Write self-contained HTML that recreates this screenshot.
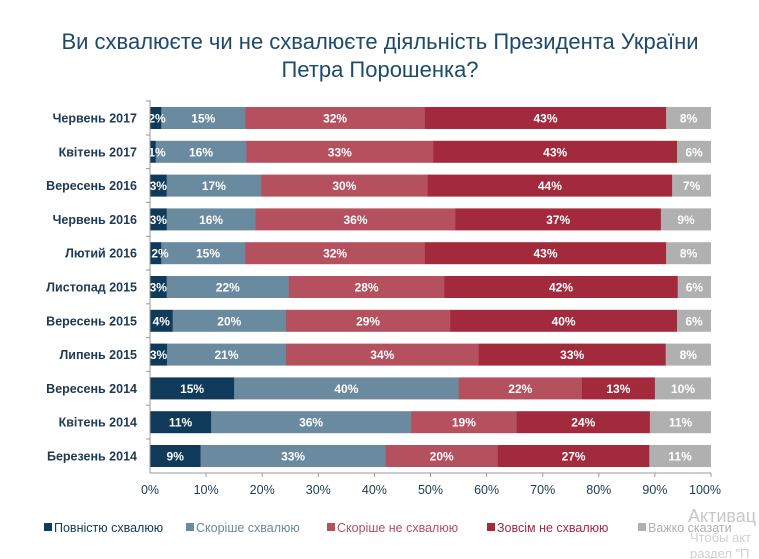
<!DOCTYPE html>
<html><head><meta charset="utf-8"><style>
body{margin:0;background:#fff;}
svg{display:block;font-family:"Liberation Sans",sans-serif;}
.l{font-size:12.5px;font-weight:bold;fill:#1d3a52;text-anchor:end}
.v{font-size:12px;font-weight:bold;fill:#fff;text-anchor:middle}
.t{font-size:12.5px;fill:#1d3a52;text-anchor:middle}
</style></head><body>
<svg width="759" height="559" viewBox="0 0 759 559" xmlns="http://www.w3.org/2000/svg">
<text x="380" y="49" text-anchor="middle" font-size="22" fill="#1d4a6b">Ви схвалюєте чи не схвалюєте діяльність Президента України</text>
<text x="380" y="77" text-anchor="middle" font-size="22" fill="#1d4a6b">Петра Порошенка?</text>

<g transform="translate(0,107)"><text class="l" x="137" y="15.5">Червень 2017</text>
<rect x="150" y="0" width="11.5" height="22" fill="#0f3a5a"/><rect x="161.22" y="0" width="84.4" height="22" fill="#6a8aa0"/><rect x="245.37" y="0" width="179.8" height="22" fill="#b5505e"/><rect x="424.89" y="0" width="241.5" height="22" fill="#a32a3d"/><rect x="666.12" y="0" width="44.88" height="22" fill="#b0b0b0"/>
<text class="v" x="157" y="15.5">2%</text><text class="v" x="203.3" y="15.5">15%</text><text class="v" x="335.1" y="15.5">32%</text><text class="v" x="545.5" y="15.5">43%</text><text class="v" x="688.6" y="15.5">8%</text></g>

<g transform="translate(0,140.8)"><text class="l" x="137" y="15.5">Квітень 2017</text>
<rect x="150" y="0" width="6" height="22" fill="#0f3a5a"/><rect x="155.67" y="0" width="91" height="22" fill="#6a8aa0"/><rect x="246.34" y="0" width="187.3" height="22" fill="#b5505e"/><rect x="433.34" y="0" width="244" height="22" fill="#a32a3d"/><rect x="677" y="0" width="34" height="22" fill="#b0b0b0"/>
<text class="v" x="157" y="15.5">1%</text><text class="v" x="201" y="15.5">16%</text><text class="v" x="339.8" y="15.5">33%</text><text class="v" x="555.2" y="15.5">43%</text><text class="v" x="694" y="15.5">6%</text></g>

<g transform="translate(0,174.6)"><text class="l" x="137" y="15.5">Вересень 2016</text>
<rect x="150" y="0" width="17" height="22" fill="#0f3a5a"/><rect x="166.66" y="0" width="94.7" height="22" fill="#6a8aa0"/><rect x="261.09" y="0" width="166.9" height="22" fill="#b5505e"/><rect x="427.7" y="0" width="244.7" height="22" fill="#a32a3d"/><rect x="672.1" y="0" width="38.9" height="22" fill="#b0b0b0"/>
<text class="v" x="158.3" y="15.5">3%</text><text class="v" x="213.9" y="15.5">17%</text><text class="v" x="344.4" y="15.5">30%</text><text class="v" x="549.9" y="15.5">44%</text><text class="v" x="691.6" y="15.5">7%</text></g>

<g transform="translate(0,208.4)"><text class="l" x="137" y="15.5">Червень 2016</text>
<rect x="150" y="0" width="17" height="22" fill="#0f3a5a"/><rect x="166.66" y="0" width="89.2" height="22" fill="#6a8aa0"/><rect x="255.53" y="0" width="200.2" height="22" fill="#b5505e"/><rect x="455.4" y="0" width="205.8" height="22" fill="#a32a3d"/><rect x="660.9" y="0" width="50.1" height="22" fill="#b0b0b0"/>
<text class="v" x="158.3" y="15.5">3%</text><text class="v" x="211.1" y="15.5">16%</text><text class="v" x="355.5" y="15.5">36%</text><text class="v" x="558.2" y="15.5">37%</text><text class="v" x="686" y="15.5">9%</text></g>

<g transform="translate(0,242.2)"><text class="l" x="137" y="15.5">Лютий 2016</text>
<rect x="150" y="0" width="11.5" height="22" fill="#0f3a5a"/><rect x="161.22" y="0" width="84.4" height="22" fill="#6a8aa0"/><rect x="245.37" y="0" width="179.8" height="22" fill="#b5505e"/><rect x="424.89" y="0" width="241.5" height="22" fill="#a32a3d"/><rect x="666.12" y="0" width="44.88" height="22" fill="#b0b0b0"/>
<text class="v" x="160" y="15.5">2%</text><text class="v" x="208" y="15.5">15%</text><text class="v" x="335.1" y="15.5">32%</text><text class="v" x="545.5" y="15.5">43%</text><text class="v" x="688.6" y="15.5">8%</text></g>

<g transform="translate(0,276)"><text class="l" x="137" y="15.5">Листопад 2015</text>
<rect x="150" y="0" width="17" height="22" fill="#0f3a5a"/><rect x="166.66" y="0" width="122.5" height="22" fill="#6a8aa0"/><rect x="288.86" y="0" width="155.8" height="22" fill="#b5505e"/><rect x="444.4" y="0" width="233.6" height="22" fill="#a32a3d"/><rect x="677.7" y="0" width="33.3" height="22" fill="#b0b0b0"/>
<text class="v" x="158.3" y="15.5">3%</text><text class="v" x="227.8" y="15.5">22%</text><text class="v" x="366.6" y="15.5">28%</text><text class="v" x="561" y="15.5">42%</text><text class="v" x="694.4" y="15.5">6%</text></g>

<g transform="translate(0,309.8)"><text class="l" x="137" y="15.5">Вересень 2015</text>
<rect x="150" y="0" width="23" height="22" fill="#0f3a5a"/><rect x="172.67" y="0" width="113.6" height="22" fill="#6a8aa0"/><rect x="285.97" y="0" width="164.6" height="22" fill="#b5505e"/><rect x="450.3" y="0" width="227" height="22" fill="#a32a3d"/><rect x="677" y="0" width="34" height="22" fill="#b0b0b0"/>
<text class="v" x="161.3" y="15.5">4%</text><text class="v" x="229.3" y="15.5">20%</text><text class="v" x="368.1" y="15.5">29%</text><text class="v" x="563.6" y="15.5">40%</text><text class="v" x="694" y="15.5">6%</text></g>

<g transform="translate(0,343.6)"><text class="l" x="137" y="15.5">Липень 2015</text>
<rect x="150" y="0" width="17.3" height="22" fill="#0f3a5a"/><rect x="167" y="0" width="119.3" height="22" fill="#6a8aa0"/><rect x="286" y="0" width="193" height="22" fill="#b5505e"/><rect x="478.7" y="0" width="187.3" height="22" fill="#a32a3d"/><rect x="665.7" y="0" width="45.3" height="22" fill="#b0b0b0"/>
<text class="v" x="158.5" y="15.5">3%</text><text class="v" x="226.5" y="15.5">21%</text><text class="v" x="382.3" y="15.5">34%</text><text class="v" x="572.2" y="15.5">33%</text><text class="v" x="688.3" y="15.5">8%</text></g>

<g transform="translate(0,377.4)"><text class="l" x="137" y="15.5">Вересень 2014</text>
<rect x="150" y="0" width="84.4" height="22" fill="#0f3a5a"/><rect x="234.15" y="0" width="224.7" height="22" fill="#6a8aa0"/><rect x="458.55" y="0" width="123.7" height="22" fill="#b5505e"/><rect x="581.97" y="0" width="73.2" height="22" fill="#a32a3d"/><rect x="654.9" y="0" width="56.1" height="22" fill="#b0b0b0"/>
<text class="v" x="192.1" y="15.5">15%</text><text class="v" x="346.4" y="15.5">40%</text><text class="v" x="520.3" y="15.5">22%</text><text class="v" x="618.4" y="15.5">13%</text><text class="v" x="683" y="15.5">10%</text></g>

<g transform="translate(0,411.2)"><text class="l" x="137" y="15.5">Квітень 2014</text>
<rect x="150" y="0" width="61.4" height="22" fill="#0f3a5a"/><rect x="211.1" y="0" width="200.3" height="22" fill="#6a8aa0"/><rect x="411.1" y="0" width="105.8" height="22" fill="#b5505e"/><rect x="516.6" y="0" width="133.6" height="22" fill="#a32a3d"/><rect x="649.9" y="0" width="61.1" height="22" fill="#b0b0b0"/>
<text class="v" x="180.5" y="15.5">11%</text><text class="v" x="311.1" y="15.5">36%</text><text class="v" x="463.9" y="15.5">19%</text><text class="v" x="583.3" y="15.5">24%</text><text class="v" x="680.5" y="15.5">11%</text></g>

<g transform="translate(0,445)"><text class="l" x="137" y="15.5">Березень 2014</text>
<rect x="150" y="0" width="50.8" height="22" fill="#0f3a5a"/><rect x="200.49" y="0" width="185.4" height="22" fill="#6a8aa0"/><rect x="385.62" y="0" width="112.5" height="22" fill="#b5505e"/><rect x="497.82" y="0" width="151.7" height="22" fill="#a32a3d"/><rect x="649.29" y="0" width="61.71" height="22" fill="#b0b0b0"/>
<text class="v" x="175.2" y="15.5">9%</text><text class="v" x="293.1" y="15.5">33%</text><text class="v" x="441.7" y="15.5">20%</text><text class="v" x="573.6" y="15.5">27%</text><text class="v" x="680.1" y="15.5">11%</text></g>

<g stroke="#999">
<line x1="150" y1="100" x2="150" y2="473"/>
<line x1="150" y1="473" x2="711" y2="473"/>
<line x1="146" y1="101" x2="150" y2="101"/><line x1="146" y1="135" x2="150" y2="135"/><line x1="146" y1="168.6" x2="150" y2="168.6"/><line x1="146" y1="202.4" x2="150" y2="202.4"/><line x1="146" y1="236.2" x2="150" y2="236.2"/><line x1="146" y1="270" x2="150" y2="270"/><line x1="146" y1="303.8" x2="150" y2="303.8"/><line x1="146" y1="337.6" x2="150" y2="337.6"/><line x1="146" y1="371.4" x2="150" y2="371.4"/><line x1="146" y1="405.2" x2="150" y2="405.2"/><line x1="146" y1="439" x2="150" y2="439"/>
<line x1="206.1" y1="473" x2="206.1" y2="477"/><line x1="262.2" y1="473" x2="262.2" y2="477"/><line x1="318.3" y1="473" x2="318.3" y2="477"/><line x1="374.4" y1="473" x2="374.4" y2="477"/><line x1="430.5" y1="473" x2="430.5" y2="477"/><line x1="486.6" y1="473" x2="486.6" y2="477"/><line x1="542.7" y1="473" x2="542.7" y2="477"/><line x1="598.8" y1="473" x2="598.8" y2="477"/><line x1="654.9" y1="473" x2="654.9" y2="477"/><line x1="711" y1="473" x2="711" y2="477"/>
</g>
<text class="t" x="150" y="494">0%</text><text class="t" x="206.1" y="494">10%</text><text class="t" x="262.2" y="494">20%</text><text class="t" x="318.3" y="494">30%</text><text class="t" x="374.4" y="494">40%</text><text class="t" x="430.5" y="494">50%</text><text class="t" x="486.6" y="494">60%</text><text class="t" x="542.7" y="494">70%</text><text class="t" x="598.8" y="494">80%</text><text class="t" x="654.9" y="494">90%</text><text class="t" x="705" y="494">100%</text>

<g font-size="12.5">
<rect x="44" y="523" width="8" height="8" fill="#0f3a5a"/><text x="54" y="532" fill="#0f3a5a">Повністю схвалюю</text>
<rect x="186" y="523" width="8" height="8" fill="#6a8aa0"/><text x="196" y="532" fill="#6a8aa0">Скоріше  схвалюю</text>
<rect x="327" y="523" width="8" height="8" fill="#b5505e"/><text x="337" y="532" fill="#b5505e">Скоріше  не схвалюю</text>
<rect x="487" y="523" width="8" height="8" fill="#a32a3d"/><text x="497" y="532" fill="#a32a3d">Зовсім не  схвалюю</text>
<rect x="638" y="523" width="8" height="8" fill="#b0b0b0"/><text x="648" y="532" fill="#b0b0b0">Важко сказати</text>
</g>
<text x="688" y="522" font-size="18" fill="#c8c8c8">Активац</text>
<text x="690" y="542" font-size="13" fill="#d0d0d0">Чтобы акт</text>
<text x="690" y="558" font-size="13" fill="#d0d0d0">раздел "П</text>
</svg>
</body></html>
